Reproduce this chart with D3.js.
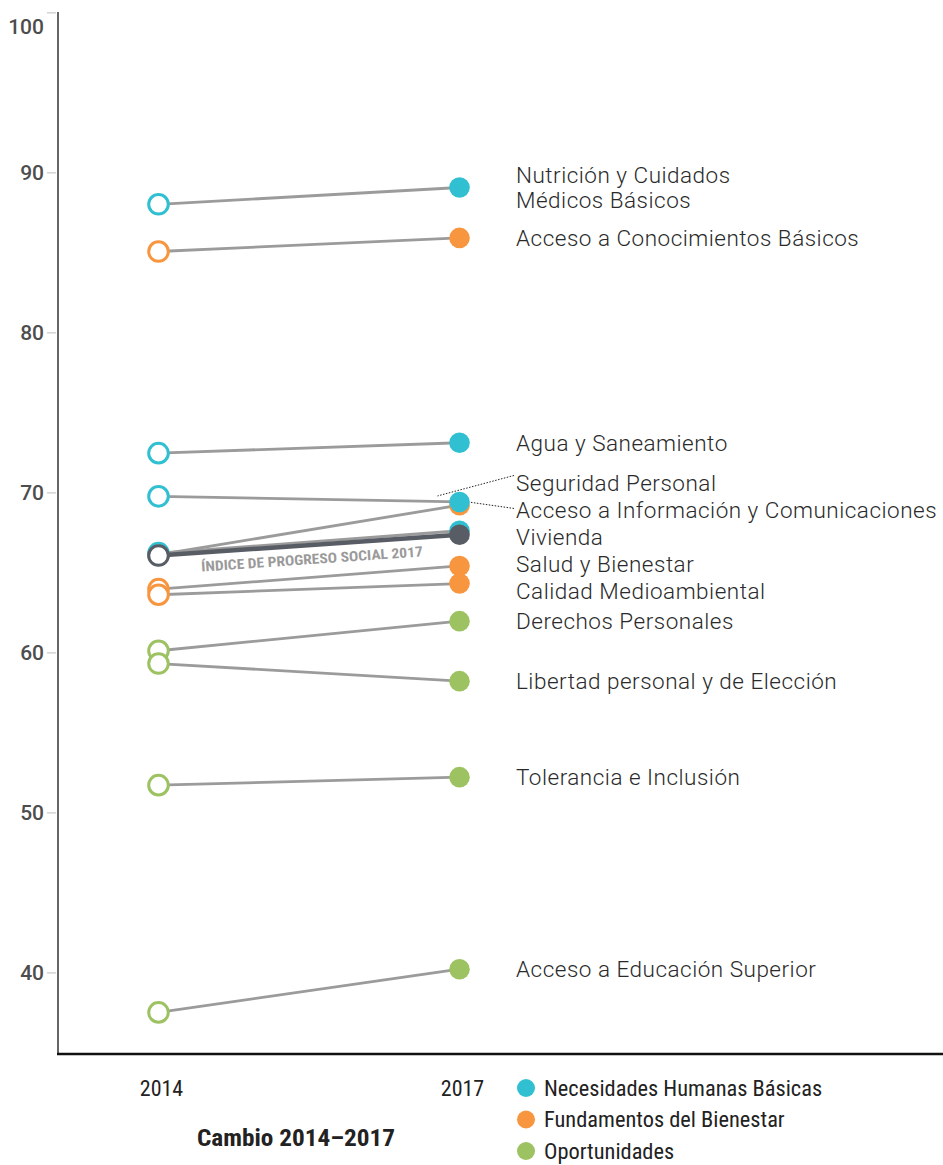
<!DOCTYPE html>
<html>
<head>
<meta charset="utf-8">
<script src="https://cdn.jsdelivr.net/npm/d3@7"></script>
<style>
  html, body { margin: 0; padding: 0; background: #fff; }
  svg { display: block; }
</style>
</head>
<body>
<svg id="chart" width="943" height="1165"></svg>
<script>
// ---------- DATA ----------
const years = ["2014", "2017"];
const components = [
  "Nutrición y Cuidados\nMédicos Básicos",
  "Acceso a Conocimientos Básicos",
  "Agua y Saneamiento",
  "Seguridad Personal",
  "Acceso a Información y Comunicaciones",
  "Vivienda",
  "Salud y Bienestar",
  "Calidad Medioambiental",
  "Derechos Personales",
  "Libertad personal y de Elección",
  "Tolerancia e Inclusión",
  "Acceso a Educación Superior"
];
const dimensionOf = [0, 1, 0, 0, 1, 0, 1, 1, 2, 2, 2, 2];
const values2014 = [88.0, 85.05, 72.45, 69.75, 66.1, 66.2, 63.95, 63.6, 60.1, 59.3, 51.7, 37.5];
const values2017 = [89.05, 85.9, 73.1, 69.4, 69.2, 67.6, 65.4, 64.3, 61.95, 58.2, 52.2, 40.2];
const indexName = "ÍNDICE DE PROGRESO SOCIAL 2017";
const index2014 = 66.05;
const index2017 = 67.35;
const dimensions = ["Necesidades Humanas Básicas", "Fundamentos del Bienestar", "Oportunidades"];
const yTicks = [40, 50, 60, 70, 80, 90, 100];
const axisTitle = "Cambio 2014–2017";

// ---------- STYLE ----------
const dimColors = ["#31c0d1", "#f8953f", "#9dc261"];
const indexColor = "#585c65";
const condensed = "'Roboto Condensed', 'Liberation Sans Narrow', Roboto, sans-serif";
const svg = d3.select("#chart");

const x = d3.scalePoint().domain(years).range([158.5, 459.5]);
const y = d3.scaleLinear().domain([34.9, 100]).range([1054, 12.3]);

// axis
const yAxis = d3.axisLeft(y).tickValues(yTicks).tickSize(10).tickPadding(4).tickFormat(d3.format("d"));
const gy = svg.append("g").attr("transform", "translate(57,0)").call(yAxis);
gy.select(".domain").remove();
gy.selectAll(".tick line").attr("stroke", "#d4d4d4").attr("stroke-width", 1.5).attr("x2", -10).attr("x1", -1);
gy.selectAll(".tick text")
  .attr("fill", "#4d4d4d").attr("font-family", "Roboto, sans-serif").attr("font-weight", 500)
  .attr("font-size", 21).attr("dy", "0.35em").attr("x", -13);
gy.selectAll(".tick").filter(d => d === 100).select("text").attr("dy", "1.0em");

svg.append("line").attr("x1", 58).attr("x2", 58).attr("y1", 12).attr("y2", 1054)
  .attr("stroke", "#333").attr("stroke-width", 1.5);
svg.append("line").attr("x1", 57).attr("x2", 943).attr("y1", 1054).attr("y2", 1054)
  .attr("stroke", "#111").attr("stroke-width", 2.5);

// year labels
svg.selectAll(".yr").data(years).enter().append("text")
  .attr("x", d => x(d) + 3).attr("y", 1088).attr("dy", "0.35em")
  .attr("text-anchor", "middle")
  .attr("font-family", condensed)
  .attr("font-size", 22).attr("fill", "#222").text(d => d);

svg.append("text").attr("x", 296).attr("y", 1138).attr("dy", "0.35em").attr("text-anchor", "middle")
  .attr("font-family", condensed)
  .attr("font-weight", 700).attr("font-size", 23).attr("fill", "#222")
  .attr("textLength", 198).attr("lengthAdjust", "spacingAndGlyphs")
  .text(axisTitle);

// build series
const series = components.map((c, i) => ({
  name: c, dim: dimensionOf[i], v0: values2014[i], v1: values2017[i], i
}));
// draw order: orange, blue, green, with index on top
const drawOrder = [1, 0, 2];
const ordered = drawOrder.flatMap(d => series.filter(s => s.dim === d));

const lines = svg.append("g");
lines.selectAll("line").data(ordered).enter().append("line")
  .attr("x1", x(years[0])).attr("x2", x(years[1]))
  .attr("y1", d => y(d.v0)).attr("y2", d => y(d.v1))
  .attr("stroke", "#9b9b9b").attr("stroke-width", 2.8);

const pts = svg.append("g");
ordered.forEach(s => {
  pts.append("circle").attr("cx", x(years[0])).attr("cy", y(s.v0)).attr("r", 9.8)
    .attr("fill", "#fff").attr("stroke", dimColors[s.dim]).attr("stroke-width", 3);
  pts.append("circle").attr("cx", x(years[1])).attr("cy", y(s.v1)).attr("r", 10.3)
    .attr("fill", dimColors[s.dim]);
});

// index
svg.append("line").attr("x1", x(years[0])).attr("x2", x(years[1]))
  .attr("y1", y(index2014)).attr("y2", y(index2017))
  .attr("stroke", indexColor).attr("stroke-width", 4.5);
svg.append("circle").attr("cx", x(years[0])).attr("cy", y(index2014)).attr("r", 9.8)
  .attr("fill", "#fff").attr("stroke", indexColor).attr("stroke-width", 3);
svg.append("circle").attr("cx", x(years[1])).attr("cy", y(index2017)).attr("r", 10.3)
  .attr("fill", indexColor);

// index label along the line
{
  const x0 = x(years[0]), x1 = x(years[1]);
  const y0 = y(index2014), y1 = y(index2017);
  const ang = Math.atan2(y1 - y0, x1 - x0) * 180 / Math.PI;
  const mx = (x0 + x1) / 2 + 2, my = y0 + (y1 - y0) * ((mx - x0) / (x1 - x0));
  svg.append("text")
    .attr("transform", `translate(${mx},${my}) rotate(${ang}) translate(0,19)`)
    .attr("text-anchor", "middle")
    .attr("font-family", condensed)
    .attr("font-weight", 700).attr("font-size", 14).attr("fill", "#9a9a9a")
    .attr("textLength", 222).attr("lengthAdjust", "spacingAndGlyphs")
    .text(indexName);
}

// labels with simple dodge
const lineH = 24.5;
const gap = 2.5;
const labs = series.map(s => {
  const lines = s.name.split("\n");
  return { s, lines, h: lines.length * lineH + gap, target: y(s.v1), pos: y(s.v1) };
}).sort((a, b) => a.target - b.target);
let clusters = labs.map(l => ({ items: [l] }));
function layout(c) {
  const total = d3.sum(c.items, l => l.h);
  const meanT = d3.mean(c.items, l => l.target);
  let top = meanT - total / 2;
  c.top = top; c.bottom = top + total;
  c.items.forEach(l => { l.pos = top + l.h / 2; top += l.h; });
}
clusters.forEach(layout);
let merged = true;
while (merged) {
  merged = false;
  for (let k = 0; k < clusters.length - 1; k++) {
    if (clusters[k].bottom > clusters[k + 1].top) {
      clusters[k].items = clusters[k].items.concat(clusters[k + 1].items);
      clusters.splice(k + 1, 1);
      layout(clusters[k]);
      merged = true;
      break;
    }
  }
}

const labelX = 516;
const lg = svg.append("g")
  .attr("font-family", "Roboto, sans-serif").attr("font-weight", 300)
  .attr("font-size", 22.5).attr("letter-spacing", "0.5px").attr("fill", "#2a2a2a");
labs.forEach(l => {
  const inner = l.lines.length * lineH;
  const t = lg.append("text").attr("x", labelX)
    .attr("y", l.pos - inner / 2 + lineH / 2);
  l.lines.forEach((ln, j) => {
    t.append("tspan").attr("x", labelX).attr("dy", j === 0 ? "0.35em" : lineH).text(ln);
  });
});

// leader lines for labels whose 2017 markers coincide
labs.forEach(l => {
  const twins = labs.filter(o => o !== l && Math.abs(o.s.v1 - l.s.v1) < 0.5);
  if (!twins.length) return;
  const first = twins.every(o => o.s.v1 < l.s.v1);
  const px = x(years[1]), py = y(l.s.v1);
  svg.append("line")
    .attr("x1", labelX - 2).attr("y1", l.pos - (first ? 8 : 2))
    .attr("x2", first ? px - 22 : px + 10).attr("y2", first ? py - 6 : py - 3)
    .attr("stroke", "#222").attr("stroke-width", 1).attr("stroke-dasharray", "1.5,1.5");
});

// legend
const leg = svg.append("g").attr("transform", "translate(526,1088)");
dimensions.forEach((d, i) => {
  const g = leg.append("g").attr("transform", `translate(0,${i * 31.5})`);
  g.append("circle").attr("r", 9).attr("fill", dimColors[i]);
  g.append("text").attr("x", 18).attr("dy", "0.35em")
    .attr("font-family", condensed)
    .attr("font-size", 22.4).attr("fill", "#222").text(d);
});
</script>
</body>
</html>
